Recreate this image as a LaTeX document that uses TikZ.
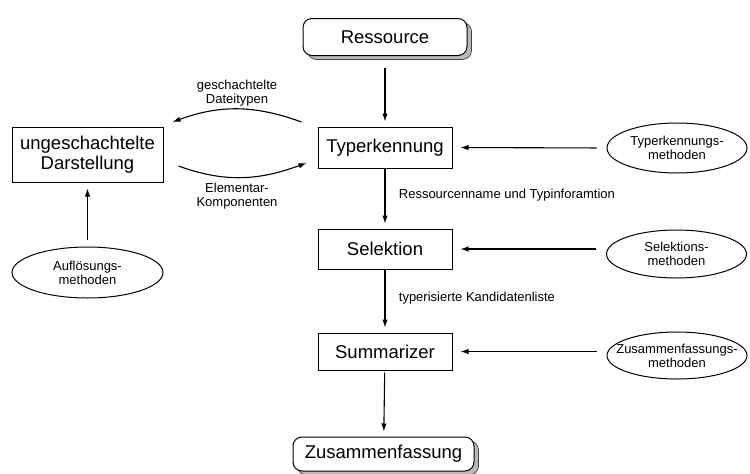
\documentclass[tikz,border=0pt]{standalone}
\usepackage{fontspec}
\setmainfont{Liberation Sans}
\usetikzlibrary{arrows.meta,shadows,shapes.geometric}
\begin{document}
\begin{tikzpicture}[x=1pt,y=-1pt,
  big/.style={font=\fontsize{18.5}{20}\selectfont},
  small/.style={font=\fontsize{13}{14}\selectfont},
  proc/.style={draw, line width=1pt, inner sep=0pt, big,
    minimum width=134pt, minimum height=40pt},
  term/.style={draw, line width=1pt, rounded corners=9pt, inner sep=0pt, big,
    fill=white, general shadow={shadow xshift=4.5pt, shadow yshift=-4pt,
    fill=gray!55, draw=black!75, line width=0.7pt}},
  meth/.style={ellipse, draw, line width=1pt, inner xsep=-16pt, inner ysep=0pt,
    small, align=center, minimum width=140pt, minimum height=50pt},
  flow/.style={line width=1.1pt, -{Latex[length=8pt,width=5.5pt]}},
  lab/.style={small, align=center}]
\useasboundingbox (0,0) rectangle (750,474);

% main chain
\node[term, minimum width=164pt, minimum height=37pt] (res) at (385,37) {Ressource};
\node[proc, minimum height=41pt] (typ) at (385,147.5) {Typerkennung};
\node[proc] (sel) at (385,249) {Selektion};
\node[proc, minimum height=37pt] (sum) at (385,351.5) {Summarizer};
\node[term, minimum width=181pt, minimum height=34pt] (zus) at (383.5,454) {Zusammenfassung};

% side nodes
\node[draw, line width=1pt, big, align=center, inner sep=0pt,
  minimum width=151pt, minimum height=55pt] (ud) at (87.5,154.5)
  {ungeschachtelte\\Darstellung};
\node[meth, minimum width=151pt, minimum height=51pt] (auf) at (87.5,272.5) {Auflösungs-\\methoden};
\node[meth] (tm) at (677,148) {Typerkennungs-\\methoden};
\node[meth, minimum height=48pt] (sm) at (676.5,254) {Selektions-\\methoden};
\node[meth, minimum height=47pt] (zm) at (677,355.5) {Zusammenfassungs-\\methoden};

% vertical flow
\draw[flow, shorten <=12pt, shorten >=5pt] (res) -- (typ);
\draw[flow, shorten >=5pt] (typ) -- (sel)
  node[pos=0.45, right=10pt, lab, anchor=west] (l1) {Ressourcenname und Typinforamtion};
\draw[flow, shorten >=5pt] (sel) -- (sum)
  node[pos=0.45, right=10pt, lab, anchor=west] (l2) {typerisierte Kandidatenliste};
\draw[flow, shorten <=2pt, shorten >=5pt] (sum) -- (zus);
\draw[flow, shorten <=7pt, shorten >=6pt] (auf) -- (ud);

% methods feeding the steps
\draw[flow, shorten <=10pt, shorten >=8pt] (tm.west) -- (typ.east);
\draw[flow, shorten <=10pt, shorten >=8pt] (sm.west |- sel.east) -- (sel.east);
\draw[flow, shorten <=10pt, shorten >=8pt] (zm.west |- sum.east) -- (sum.east);

% nested file types loop
\coordinate (a1) at ([xshift=-16pt,yshift=25.5pt]typ.west);
\coordinate (a2) at ([xshift=9pt,yshift=32.5pt]ud.east);
\coordinate (b1) at ([xshift=15pt,yshift=-11.5pt]ud.east);
\coordinate (b2) at ([xshift=-11pt,yshift=-15.5pt]typ.west);
\draw[flow] (a1) to[out=160,in=20] (a2);
\draw[flow] (b1) to[out=-20,in=-160] (b2);
\node[lab] (gd) at (237,93) {geschachtelte\\Dateitypen};
\node[lab] (ek) at (237,196.5) {Elementar-\\Komponenten};
\end{tikzpicture}
\end{document}
